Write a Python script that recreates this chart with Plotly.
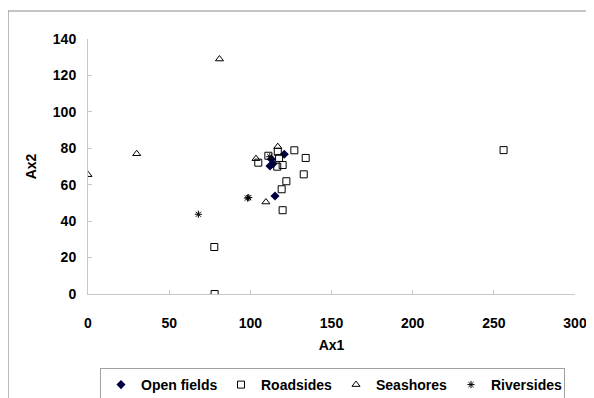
import plotly.graph_objects as go

# Data
open_x = [120.9, 115.2, 112.1, 114.0, 113.0]
open_y = [76.7, 53.8, 70.3, 71.5, 74.0]

road_x = [77.8, 78.0, 256.0, 134.1, 127.1, 132.9, 122.2, 119.3, 119.9, 104.9, 111.1, 117.7, 119.9, 116.6, 116.9]
road_y = [25.8, 0.0, 79.0, 74.7, 78.9, 65.7, 61.9, 57.5, 46.0, 72.1, 75.9, 74.7, 70.8, 69.9, 78.1]

sea_x = [0.0, 30.0, 81.0, 103.5, 109.6, 116.9]
sea_y = [65.5, 77.0, 129.0, 74.3, 50.5, 80.9]

river_x = [68.0, 98.2, 99.0, 112.0]
river_y = [43.8, 52.7, 52.9, 75.4]

x_ticks = [0, 50, 100, 150, 200, 250, 300]
y_ticks = [0, 20, 40, 60, 80, 100, 120, 140]

FAM = "Liberation Sans, Arial, sans-serif"
font = dict(family=FAM, size=14, color="black")

fig = go.Figure()
fig.add_trace(go.Scatter(x=open_x, y=open_y, mode="markers", name="<b>Open fields</b>",
                         legendwidth=75,
                         marker=dict(symbol="diamond", size=7, color="#000040",
                                     line=dict(width=0))))
fig.add_trace(go.Scatter(x=road_x, y=road_y, mode="markers", name="<b>Roadsides</b>",
                         legendwidth=70,
                         marker=dict(symbol="square-open", size=7, color="black",
                                     line=dict(width=1))))
fig.add_trace(go.Scatter(x=sea_x, y=sea_y, mode="markers", name="<b>Seashores</b>",
                         legendwidth=70,
                         marker=dict(symbol="triangle-up-open", size=7, color="black",
                                     line=dict(width=1))))
fig.add_trace(go.Scatter(x=river_x, y=river_y, mode="markers", name="<b>Riversides</b>",
                         legendwidth=68,
                         marker=dict(symbol="asterisk-open", size=6, color="black",
                                     line=dict(width=1, color="black"))))

# page body adds an 8px offset; figure coordinates below compensate for it
OFF = 8
W, H = 594, 398
L, T = 88 - OFF, 39 - OFF
R = W - (575 - OFF)
B = H - (294 - OFF)
pw, ph = W - L - R, H - T - B

axis_common = dict(showgrid=False, zeroline=False, showline=True, linecolor="#c8c8c8",
                   linewidth=1, ticks="inside", ticklen=4, tickcolor="#c8c8c8",
                   automargin=False,
                   tickfont=dict(family=FAM, size=14, color="black"))

fig.update_xaxes(range=[0, 300], tickvals=x_ticks,
                 ticktext=[f"<b>{v}</b>" for v in x_ticks],
                 ticklabelstandoff=16,
                 title=dict(text="<b>Ax1</b>", font=font, standoff=10),
                 **axis_common)
fig.update_yaxes(range=[0, 140], tickvals=y_ticks,
                 ticktext=[f"<b>{v}</b>" for v in y_ticks],
                 ticklabelstandoff=8,
                 title=dict(text="<b>Ax2</b>", font=font, standoff=12),
                 **axis_common)

# outer chart frame (top-left corner visible)
fx0, fy0 = 0, 3
fig.add_shape(type="rect", xref="paper", yref="paper",
              x0=(fx0 - L) / pw, x1=(W + 10 - L) / pw,
              y0=-(H + 10 - (H - B)) / ph, y1=((H - B) - fy0) / ph,
              line=dict(color="#8c8c8c", width=1.2), fillcolor="rgba(0,0,0,0)", layer="below")

fig.update_layout(
    width=W, height=H,
    margin=dict(l=L, r=R, t=T, b=B, autoexpand=False),
    paper_bgcolor="white", plot_bgcolor="white",
    font=font,
    showlegend=True,
    legend=dict(orientation="h", xref="container", yref="container",
                x=(332.5 - OFF) / W, xanchor="center",
                y=1 - (368 - OFF) / H, yanchor="top",
                bordercolor="#a0a0a0", borderwidth=1, bgcolor="white",
                itemwidth=30,
                font=dict(family=FAM, size=14, color="black")),
)

fig.write_html("out.html")
